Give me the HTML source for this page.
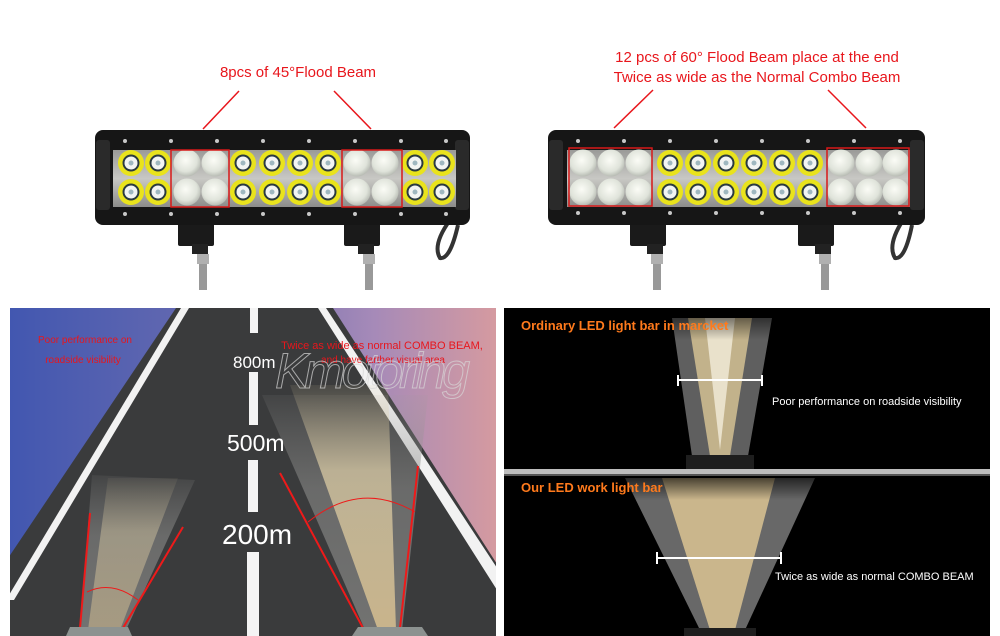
<!DOCTYPE html>
<html><head><meta charset="utf-8"><style>
html,body{margin:0;padding:0;background:#fff;width:1000px;height:636px;overflow:hidden}
svg{display:block}
text{font-family:"Liberation Sans",sans-serif}
</style></head><body>
<svg width="1000" height="636" viewBox="0 0 1000 636" xmlns="http://www.w3.org/2000/svg">
<defs>
<radialGradient id="flood" cx="0.45" cy="0.4" r="0.6"><stop offset="0" stop-color="#fbfcf6"/><stop offset="0.7" stop-color="#dfe3da"/><stop offset="1" stop-color="#b8bcb4"/></radialGradient>
<linearGradient id="sky" x1="0" x2="1" y1="0" y2="0"><stop offset="0" stop-color="#4257b0"/><stop offset="0.45" stop-color="#6a6cb0"/><stop offset="0.75" stop-color="#a68ab8"/><stop offset="1" stop-color="#d59aa0"/></linearGradient>
<linearGradient id="panel" x1="0" x2="0" y1="0" y2="1"><stop offset="0" stop-color="#9a9a98"/><stop offset="0.5" stop-color="#c8c8c4"/><stop offset="1" stop-color="#8c8c8a"/></linearGradient>
<linearGradient id="beamfade" x1="0" x2="0" y1="0" y2="1"><stop offset="0" stop-color="#d8c8a0" stop-opacity="0.1"/><stop offset="0.35" stop-color="#e0d0a8" stop-opacity="0.7"/><stop offset="1" stop-color="#d8c090" stop-opacity="0.85"/></linearGradient>
<linearGradient id="grayfade" x1="0" x2="0" y1="0" y2="1"><stop offset="0" stop-color="#9a9a98" stop-opacity="0.1"/><stop offset="0.4" stop-color="#8a8a88" stop-opacity="0.6"/><stop offset="1" stop-color="#8a8a88" stop-opacity="0.7"/></linearGradient>
<linearGradient id="topglow" x1="0" x2="0" y1="0" y2="1"><stop offset="0" stop-color="#000" stop-opacity="0.7"/><stop offset="0.4" stop-color="#000" stop-opacity="0"/></linearGradient>
<g id="spot"><circle r="13" fill="#e9e31c"/><circle r="8.5" fill="#2a3a40"/><circle r="6.5" fill="#f2f4f2"/><circle r="2.5" fill="#9fb8c0"/></g>
<g id="fl"><circle r="13.5" fill="url(#flood)"/></g>
</defs>

<text x="298" y="77" font-size="15" fill="#e8161c" text-anchor="middle">8pcs of 45°Flood Beam</text>
<line x1="239" y1="91" x2="203" y2="129" stroke="#e8161c" stroke-width="1.5"/>
<line x1="334" y1="91" x2="371" y2="129" stroke="#e8161c" stroke-width="1.5"/>
<g>
<rect x="178" y="222" width="36" height="24" fill="#1a1a1a" rx="2"/>
<rect x="344" y="222" width="36" height="24" fill="#1a1a1a" rx="2"/>
<rect x="192" y="244" width="16" height="10" fill="#222"/><rect x="358" y="244" width="16" height="10" fill="#222"/>
<rect x="197" y="254" width="12" height="10" fill="#b0b0b0"/><rect x="363" y="254" width="12" height="10" fill="#b0b0b0"/>
<rect x="199" y="264" width="8" height="26" fill="#999"/><rect x="365" y="264" width="8" height="26" fill="#999"/>
<path d="M450 220 Q432 245 440 258 Q450 260 458 225" fill="none" stroke="#333" stroke-width="4"/>
<rect x="95" y="130" width="375" height="95" rx="8" fill="#161616"/>
<rect x="96" y="140" width="14" height="70" rx="3" fill="#2a2a2a"/>
<rect x="455" y="140" width="14" height="70" rx="3" fill="#2a2a2a"/>
<rect x="113" y="150" width="343" height="57" fill="url(#panel)"/>
</g>
<g fill="#c8c8c8">
<circle cx="125" cy="141" r="2"/><circle cx="171" cy="141" r="2"/><circle cx="217" cy="141" r="2"/><circle cx="263" cy="141" r="2"/><circle cx="309" cy="141" r="2"/><circle cx="355" cy="141" r="2"/><circle cx="401" cy="141" r="2"/><circle cx="446" cy="141" r="2"/>
<circle cx="125" cy="214" r="2"/><circle cx="171" cy="214" r="2"/><circle cx="217" cy="214" r="2"/><circle cx="263" cy="214" r="2"/><circle cx="309" cy="214" r="2"/><circle cx="355" cy="214" r="2"/><circle cx="401" cy="214" r="2"/><circle cx="446" cy="214" r="2"/>
</g>
<use href="#spot" x="131" y="163"/><use href="#spot" x="158" y="163"/><use href="#fl" x="187" y="163"/><use href="#fl" x="215" y="163"/><use href="#spot" x="243" y="163"/><use href="#spot" x="272" y="163"/><use href="#spot" x="300" y="163"/><use href="#spot" x="328" y="163"/><use href="#fl" x="357" y="163"/><use href="#fl" x="385" y="163"/><use href="#spot" x="415" y="163"/><use href="#spot" x="442" y="163"/>
<use href="#spot" x="131" y="192"/><use href="#spot" x="158" y="192"/><use href="#fl" x="187" y="192"/><use href="#fl" x="215" y="192"/><use href="#spot" x="243" y="192"/><use href="#spot" x="272" y="192"/><use href="#spot" x="300" y="192"/><use href="#spot" x="328" y="192"/><use href="#fl" x="357" y="192"/><use href="#fl" x="385" y="192"/><use href="#spot" x="415" y="192"/><use href="#spot" x="442" y="192"/>
<rect x="171" y="150" width="58" height="57" fill="none" stroke="#d81818" stroke-width="1.5"/>
<rect x="342" y="150" width="60" height="57" fill="none" stroke="#d81818" stroke-width="1.5"/>

<text x="757" y="62" font-size="15" fill="#e8161c" text-anchor="middle">12 pcs of 60° Flood Beam place at the end</text>
<text x="757" y="82" font-size="15" fill="#e8161c" text-anchor="middle">Twice as wide as the Normal Combo Beam</text>
<line x1="653" y1="90" x2="614" y2="128" stroke="#e8161c" stroke-width="1.5"/>
<line x1="828" y1="90" x2="866" y2="128" stroke="#e8161c" stroke-width="1.5"/>
<g>
<rect x="630" y="222" width="36" height="24" fill="#1a1a1a" rx="2"/>
<rect x="798" y="222" width="36" height="24" fill="#1a1a1a" rx="2"/>
<rect x="647" y="244" width="16" height="10" fill="#222"/><rect x="815" y="244" width="16" height="10" fill="#222"/>
<rect x="651" y="254" width="12" height="10" fill="#b0b0b0"/><rect x="819" y="254" width="12" height="10" fill="#b0b0b0"/>
<rect x="653" y="264" width="8" height="26" fill="#999"/><rect x="821" y="264" width="8" height="26" fill="#999"/>
<path d="M903 220 Q887 245 895 258 Q905 260 912 225" fill="none" stroke="#333" stroke-width="4"/>
<rect x="548" y="130" width="377" height="95" rx="8" fill="#161616"/>
<rect x="549" y="140" width="14" height="70" rx="3" fill="#2a2a2a"/>
<rect x="910" y="140" width="14" height="70" rx="3" fill="#2a2a2a"/>
<rect x="567" y="150" width="343" height="57" fill="url(#panel)"/>
</g>
<g fill="#c8c8c8">
<circle cx="578" cy="141" r="2"/><circle cx="624" cy="141" r="2"/><circle cx="670" cy="141" r="2"/><circle cx="716" cy="141" r="2"/><circle cx="762" cy="141" r="2"/><circle cx="808" cy="141" r="2"/><circle cx="854" cy="141" r="2"/><circle cx="900" cy="141" r="2"/>
<circle cx="578" cy="213" r="2"/><circle cx="624" cy="213" r="2"/><circle cx="670" cy="213" r="2"/><circle cx="716" cy="213" r="2"/><circle cx="762" cy="213" r="2"/><circle cx="808" cy="213" r="2"/><circle cx="854" cy="213" r="2"/><circle cx="900" cy="213" r="2"/>
</g>
<use href="#fl" x="583" y="163"/><use href="#fl" x="611" y="163"/><use href="#fl" x="639" y="163"/><use href="#spot" x="670" y="163"/><use href="#spot" x="698" y="163"/><use href="#spot" x="726" y="163"/><use href="#spot" x="754" y="163"/><use href="#spot" x="782" y="163"/><use href="#spot" x="810" y="163"/><use href="#fl" x="841" y="163"/><use href="#fl" x="869" y="163"/><use href="#fl" x="896" y="163"/>
<use href="#fl" x="583" y="192"/><use href="#fl" x="611" y="192"/><use href="#fl" x="639" y="192"/><use href="#spot" x="670" y="192"/><use href="#spot" x="698" y="192"/><use href="#spot" x="726" y="192"/><use href="#spot" x="754" y="192"/><use href="#spot" x="782" y="192"/><use href="#spot" x="810" y="192"/><use href="#fl" x="841" y="192"/><use href="#fl" x="869" y="192"/><use href="#fl" x="896" y="192"/>
<rect x="569" y="148" width="83" height="58" fill="none" stroke="#d81818" stroke-width="1.5"/>
<rect x="827" y="148" width="82" height="58" fill="none" stroke="#d81818" stroke-width="1.5"/>

<svg x="10" y="308" width="486" height="328" viewBox="10 308 486 328">
<rect x="10" y="308" width="486" height="328" fill="url(#sky)"/>
<polygon points="176,308 333,308 520,600 520,636 -20,636 -20,600" fill="#3a3b3c"/>
<polygon points="181,308 189,308 14,600 6,600" fill="#f2f2f2"/>
<polygon points="318,308 326,308 505,580 497,590" fill="#f2f2f2"/>
<g fill="#f4f4f4"><rect x="250" y="308" width="8" height="25"/><rect x="249" y="372" width="9" height="53"/><rect x="248" y="460" width="10" height="52"/><rect x="247" y="552" width="12" height="84"/></g>
<polygon points="80,630 126,630 195,480 92,475" fill="url(#grayfade)"/>
<polygon points="88,630 120,630 178,478 108,478" fill="url(#beamfade)" opacity="0.6"/>
<line x1="80" y1="628" x2="90" y2="513" stroke="#ee1a1a" stroke-width="2"/>
<line x1="123" y1="628" x2="183" y2="527" stroke="#ee1a1a" stroke-width="2"/>
<path d="M87 592 Q112 580 138 600" fill="none" stroke="#ee1a1a" stroke-width="1"/>
<polygon points="365,630 402,630 428,395 262,395" fill="url(#grayfade)"/>
<polygon points="378,630 396,630 388,385 290,385" fill="url(#beamfade)"/>
<line x1="363" y1="628" x2="280" y2="473" stroke="#ee1a1a" stroke-width="2"/>
<line x1="400" y1="628" x2="418" y2="466" stroke="#ee1a1a" stroke-width="2"/>
<path d="M308 522 Q360 480 415 512" fill="none" stroke="#ee1a1a" stroke-width="1"/>
<polygon points="66,636 70,627 128,627 132,636" fill="#8c9290"/>
<polygon points="352,636 358,627 422,627 428,636" fill="#8c9290"/>
<text x="85" y="343" font-size="10" fill="#e8161c" text-anchor="middle">Poor performance on</text>
<text x="83" y="363" font-size="10" fill="#e8161c" text-anchor="middle">roadside visibility</text>
<text x="382" y="349" font-size="11" fill="#e8161c" text-anchor="middle">Twice as wide as normal COMBO BEAM,</text>
<text x="383" y="363" font-size="10" fill="#e8161c" text-anchor="middle">and have farther visual area</text>
<text x="275" y="388" font-size="50" font-style="italic" fill="none" stroke="#d8d8d8" stroke-width="1" opacity="0.7" textLength="195">Kmotoring</text>
<text x="233" y="368" font-size="17" fill="#fff">800m</text>
<text x="227" y="451" font-size="23" fill="#fff">500m</text>
<text x="222" y="544" font-size="28" fill="#fff">200m</text>
</svg>

<svg x="504" y="308" width="486" height="328" viewBox="504 308 486 328">
<rect x="504" y="308" width="486" height="328" fill="#000"/>
<polygon points="672,318 772,318 748,456 692,456" fill="#777" opacity="0.8"/>
<polygon points="688,318 752,318 730,456 710,456" fill="#cdbb90" opacity="0.9"/>
<polygon points="705,318 735,318 720,450" fill="#ede6d2" opacity="0.9"/>
<rect x="660" y="308" width="130" height="80" fill="url(#topglow)"/>
<rect x="686" y="455" width="68" height="15" fill="#1e1e1e"/>
<line x1="678" y1="380" x2="762" y2="380" stroke="#fff" stroke-width="2"/>
<line x1="678" y1="375" x2="678" y2="386" stroke="#fff" stroke-width="2"/>
<line x1="762" y1="375" x2="762" y2="386" stroke="#fff" stroke-width="2"/>
<rect x="504" y="469" width="486" height="5" fill="#bdbdbd"/>
<rect x="504" y="474" width="486" height="2" fill="#555"/>
<polygon points="625,478 815,478 745,630 700,630" fill="#7a7a7a" opacity="0.85"/>
<polygon points="662,478 775,478 735,630 710,630" fill="#d0bb8e" opacity="0.95"/>
<rect x="610" y="476" width="220" height="60" fill="url(#topglow)"/>
<rect x="684" y="628" width="72" height="8" fill="#1e1e1e"/>
<line x1="657" y1="558" x2="781" y2="558" stroke="#fff" stroke-width="2"/>
<line x1="657" y1="552" x2="657" y2="564" stroke="#fff" stroke-width="2"/>
<line x1="781" y1="552" x2="781" y2="564" stroke="#fff" stroke-width="2"/>
<text x="521" y="330" font-size="13" font-weight="bold" fill="#ff7a1c">Ordinary  LED light bar in  marcket</text>
<text x="521" y="492" font-size="13" font-weight="bold" fill="#ff7a1c">Our LED work light bar</text>
<text x="772" y="405" font-size="11" fill="#fff">Poor performance on roadside visibility</text>
<text x="775" y="580" font-size="11" fill="#fff">Twice as wide as normal COMBO BEAM</text>
</svg>
</svg>
</body></html>
